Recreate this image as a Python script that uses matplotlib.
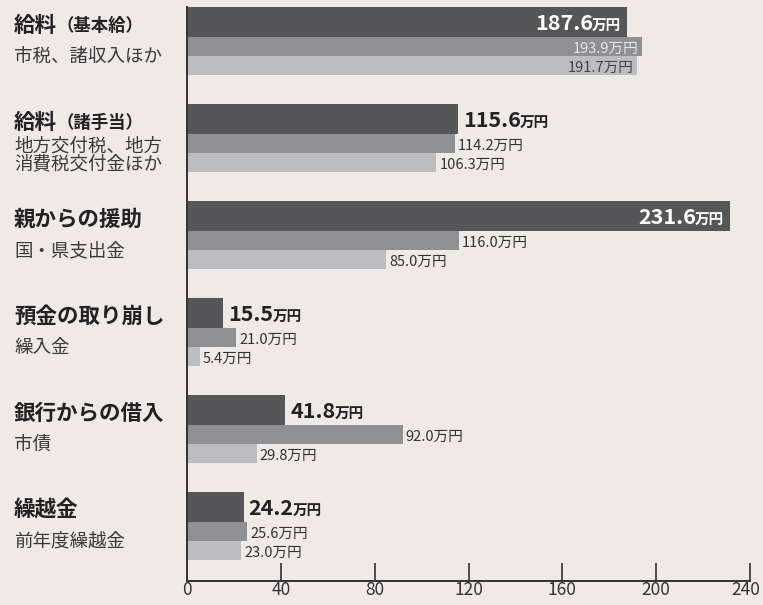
import matplotlib
matplotlib.use("Agg")
import matplotlib.pyplot as plt
import matplotlib.transforms as mtrans

# ---------------- data ----------------
titles_main = ["給料", "給料", "親からの援助", "預金の取り崩し", "銀行からの借入", "繰越金"]
titles_paren = ["（基本給）", "（諸手当）", "", "", "", ""]
subtitles = ["市税、諸収入ほか", "地方交付税、地方\n消費税交付金ほか", "国・県支出金",
             "繰入金", "市債", "前年度繰越金"]
values_dark = [187.6, 115.6, 231.6, 15.5, 41.8, 24.2]
values_mid = [193.9, 114.2, 116.0, 21.0, 92.0, 25.6]
values_light = [191.7, 106.3, 85.0, 5.4, 29.8, 23.0]
xticks = [0, 40, 80, 120, 160, 200, 240]
unit = "万円"

# ---------------- style ----------------
BG = "#efeae3"
C_DARK = "#545658"
C_MID = "#8e9094"
C_LIGHT = "#bcbdc1"
JP = "Noto Sans CJK JP"
NUMFAM = [JP]

W, H = 763, 605
fig = plt.figure(figsize=(W / 100, H / 100), dpi=100, facecolor=BG)
top_px, bot_px, left_px, right_px = 7, 581, 187, 750
ax = fig.add_axes([left_px / W, (H - bot_px) / H, (right_px - left_px) / W, (bot_px - top_px) / H])
ax.set_facecolor("none")

G = 97.0  # px per group
h_dark, h_sub = 30 / G, 19 / G
n = len(values_dark)
pos = list(range(n))

ax.barh([p for p in pos], values_dark, height=h_dark, align="edge", color=C_DARK)
ax.barh([p + h_dark for p in pos], values_mid, height=h_sub, align="edge", color=C_MID)
ax.barh([p + h_dark + h_sub for p in pos], values_light, height=h_sub, align="edge", color=C_LIGHT)

ax.set_xlim(0, 240)
ax.set_ylim((bot_px - top_px) / G, 0)

for s in ["top", "right"]:
    ax.spines[s].set_visible(False)
ax.spines["left"].set_color("#333333")
ax.spines["left"].set_linewidth(1.4)
ax.spines["bottom"].set_color("#333333")
ax.spines["bottom"].set_linewidth(1.4)
ax.set_yticks([])
ax.set_xticks(xticks)
ax.set_xticklabels([str(t) for t in xticks], family=NUMFAM, fontsize=12.5, color="#333333")
ax.tick_params(axis="x", direction="in", length=13, width=1.2, color="#333333", pad=0)
ax.xaxis.get_major_ticks()[0].tick1line.set_visible(False)
last = ax.get_xticklabels()[-1]
last.set_transform(last.get_transform() + mtrans.ScaledTranslation(-4 / 100, 0, fig.dpi_scale_trans))

fig.canvas.draw()
renderer = fig.canvas.get_renderer()
inv = ax.transData.inverted()


def px_to_dx(px):
    return px * 240 / (right_px - left_px)


def two_part(x, y, num, num_size, unit_size, color, bold, inside):
    w = "bold" if bold else "normal"
    if not inside:
        t1 = ax.text(x, y, num, family=NUMFAM, fontsize=num_size, fontweight=w,
                     color=color, ha="left", va="baseline")
        bb = t1.get_window_extent(renderer)
        xd = inv.transform((bb.x1, 0))[0]
        ax.text(xd - px_to_dx(1), y, unit, family=[JP], fontsize=unit_size, fontweight=w,
                color=color, ha="left", va="baseline")
    else:
        t2 = ax.text(x, y, unit, family=[JP], fontsize=unit_size, fontweight=w,
                     color=color, ha="right", va="baseline")
        bb = t2.get_window_extent(renderer)
        xd = inv.transform((bb.x0, 0))[0]
        ax.text(xd + px_to_dx(1), y, num, family=NUMFAM, fontsize=num_size, fontweight=w,
                color=color, ha="right", va="baseline")


for i in pos:
    # dark bar label
    v = values_dark[i]
    yb = i + h_dark / 2 + 8 / G
    if v > 150:
        two_part(v - px_to_dx(6), yb, f"{v:.1f}", 15.5, 10.5, "white", True, True)
    else:
        two_part(v + px_to_dx(5), yb, f"{v:.1f}", 15.5, 10.5, "#222222", True, False)
    # mid bar label
    v = values_mid[i]
    yb = i + h_dark + h_sub / 2 + 6 / G
    if v > 150:
        ax.text(v - px_to_dx(3), yb, f"{v:.1f}{unit}", family=NUMFAM, fontsize=10.5,
                color="#e6e6e6", ha="right", va="baseline")
    else:
        ax.text(v + px_to_dx(3), yb, f"{v:.1f}{unit}", family=NUMFAM, fontsize=10.5,
                color="#333333", ha="left", va="baseline")
    # light bar label
    v = values_light[i]
    yb = i + h_dark + 2 * h_sub - h_sub / 2 + 6 / G
    if v > 150:
        ax.text(v - px_to_dx(3), yb, f"{v:.1f}{unit}", family=NUMFAM, fontsize=10.5,
                color="#444444", ha="right", va="baseline")
    else:
        ax.text(v + px_to_dx(3), yb, f"{v:.1f}{unit}", family=NUMFAM, fontsize=10.5,
                color="#333333", ha="left", va="baseline")

# left-side category labels
blend = mtrans.blended_transform_factory(fig.transFigure, ax.transData)
x_left = 14 / W
for i in pos:
    t = ax.text(x_left, i + 18 / G, titles_main[i], transform=blend, family=[JP],
                fontsize=15.5, fontweight="bold", color="#222222", ha="left", va="center")
    if titles_paren[i]:
        bb = t.get_window_extent(renderer)
        xf = fig.transFigure.inverted().transform((bb.x1, 0))[0]
        ax.text(xf, i + 19 / G, titles_paren[i], transform=blend, family=[JP],
                fontsize=12.5, fontweight="bold", color="#222222", ha="left", va="center")
    if "\n" in subtitles[i]:
        ax.text(x_left, i + 51 / G, subtitles[i], transform=blend, family=[JP],
                fontsize=13.3, color="#3a3a3a", ha="left", va="center", linespacing=1.0)
    else:
        ax.text(x_left, i + 50 / G, subtitles[i], transform=blend, family=[JP],
                fontsize=13.3, color="#3a3a3a", ha="left", va="center")

fig.savefig("out.png", dpi=100, facecolor=BG)
